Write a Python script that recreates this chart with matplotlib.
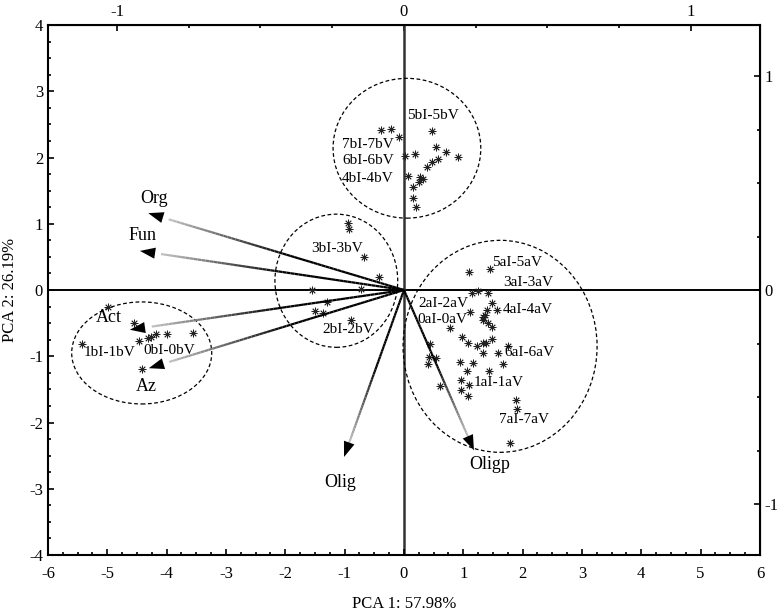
import numpy as np
import matplotlib
matplotlib.use('Agg')
import matplotlib.pyplot as plt
from matplotlib.collections import LineCollection
from matplotlib.patches import Ellipse
from matplotlib.ticker import MultipleLocator, FixedLocator

plt.rcParams['font.family'] = ['Liberation Serif', 'DejaVu Serif']
plt.rcParams['axes.unicode_minus'] = False

# scores, grouped by cluster
b47_x = [-0.39, -0.22, -0.08, 0.47, 0.54, 0.71, 0.91, 0.02, 0.19, 0.57, 0.47, 0.39,
         0.07, 0.27, 0.32, 0.25, 0.15, 0.15, 0.20]
b47_y = [2.42, 2.43, 2.31, 2.40, 2.16, 2.08, 2.01, 2.02, 2.05, 1.98, 1.93, 1.86,
         1.72, 1.71, 1.68, 1.63, 1.55, 1.39, 1.25]
b23_x = [-0.94, -0.93, -0.67, -0.42, -1.55, -0.72, -1.30, -1.50, -1.37, -0.89]
b23_y = [1.01, 0.92, 0.50, 0.20, 0.00, 0.02, -0.18, -0.32, -0.35, -0.45]
b01_x = [-4.99, -4.55, -4.47, -4.31, -4.26, -4.18, -3.99, -3.56, -5.43, -4.42]
b01_y = [-0.26, -0.50, -0.77, -0.72, -0.71, -0.66, -0.66, -0.65, -0.82, -1.19]
a_x = [1.10, 1.45, 1.15, 1.25, 1.42, 1.48, 1.40, 1.57, 1.11, 1.33, 1.37, 1.33, 1.42,
       1.48, 0.78, 0.98, 1.08, 1.23, 1.33, 1.38, 1.48, 1.75, 1.33, 1.58, 0.44, 0.42,
       0.54, 0.40, 0.94, 1.16, 1.67, 1.06, 1.43, 0.96, 1.10, 0.61, 0.96, 1.08, 1.89,
       1.90, 1.79]
a_y = [0.27, 0.32, -0.05, -0.02, -0.05, -0.20, -0.30, -0.30, -0.33, -0.41, -0.38, -0.45,
       -0.50, -0.56, -0.57, -0.71, -0.80, -0.85, -0.80, -0.80, -0.74, -0.85, -0.95, -0.95,
       -0.82, -1.01, -1.03, -1.12, -1.09, -1.10, -1.12, -1.22, -1.22, -1.36, -1.43, -1.45,
       -1.51, -1.60, -1.66, -1.80, -2.31]

# loadings (arrow tips) and their labels
var_names = ['Org', 'Fun', 'Act', 'Az', 'Olig', 'Oligp']
var_x = [-4.31, -4.45, -4.62, -4.30, -1.01, 1.18]
var_y = [1.16, 0.59, -0.60, -1.18, -2.52, -2.42]
var_lx = [-4.21, -4.40, -4.97, -4.35, -1.08, 1.45]
var_ly = [1.38, 0.82, -0.42, -1.45, -2.90, -2.64]

# sample group labels
grp_names = ['5bI-5bV', '7bI-7bV', '6bI-6bV', '4bI-4bV', '3bI-3bV', '2bI-2bV',
             '1bI-1bV', '0bI-0bV', '5aI-5aV', '3aI-3aV', '4aI-4aV', '2aI-2aV',
             '0aI-0aV', '6aI-6aV', '1aI-1aV', '7aI-7aV']
grp_x = [0.49, -0.61, -0.61, -0.61, -1.13, -0.94, -4.96, -3.96, 1.90, 2.09, 2.09,
         0.66, 0.64, 2.12, 1.60, 2.02]
grp_y = [2.64, 2.19, 1.95, 1.68, 0.63, -0.59, -0.94, -0.92, 0.42, 0.11, -0.29,
         -0.21, -0.45, -0.94, -1.40, -1.96]

# cluster outlines: center x, center y, width, height
ell_cx = [0.05, -1.14, -4.42, 1.62]
ell_cy = [2.14, 0.14, -0.95, -0.85]
ell_w = [2.49, 2.07, 2.36, 3.27]
ell_h = [2.11, 2.01, 1.54, 3.20]

fig = plt.figure(figsize=(7.8, 6.13), dpi=100)
ax = fig.add_axes([0.0615, 0.0946, 0.9128, 0.8646])
ax.set_xlim(-6, 6)
ax.set_ylim(-4, 4)

ax.axhline(0, color='black', lw=1.4, zorder=1)
ax.axvline(0, color='#333333', lw=1.8, zorder=1)

for cx, cy, w, h in zip(ell_cx, ell_cy, ell_w, ell_h):
    ax.add_patch(Ellipse((cx, cy), w, h, fill=False, ls=(0, (3, 2)), lw=0.9,
                         color='black', zorder=2))

for xs, ys in [(b47_x, b47_y), (b23_x, b23_y), (b01_x, b01_y), (a_x, a_y)]:
    ax.plot(xs, ys, ls='none', marker=(8, 2, 0), ms=5.5, mew=0.6, color='#222222', zorder=3)

# arrows: shaft fading from black to light grey, black head
for x, y in zip(var_x, var_y):
    n = 60
    t = np.linspace(0, 0.92, n + 1)
    pts = np.column_stack([t * x, t * y])
    segs = np.stack([pts[:-1], pts[1:]], axis=1)
    frac = np.clip((t[:-1] - 0.45) / 0.47, 0, 1)
    g = 0.78 * frac
    cols = [(v, v, v) for v in g]
    ax.add_collection(LineCollection(segs, colors=cols, linewidths=1.6, zorder=4))
    ax.annotate('', xy=(x, y), xytext=(0.88 * x, 0.88 * y),
                arrowprops=dict(arrowstyle='-|>,head_length=1.1,head_width=0.4',
                                color='black', lw=0, shrinkA=0, shrinkB=0), zorder=5)

for name, lx, ly in zip(var_names, var_lx, var_ly):
    ax.text(lx, ly, name, fontsize=13, ha='center', va='center', zorder=6)

for name, gx, gy in zip(grp_names, grp_x, grp_y):
    ax.text(gx, gy, name, fontsize=11, ha='center', va='center', zorder=6)

ax.xaxis.set_major_locator(MultipleLocator(1))
ax.xaxis.set_minor_locator(MultipleLocator(0.25))
ax.yaxis.set_major_locator(MultipleLocator(1))
ax.yaxis.set_minor_locator(MultipleLocator(0.25))
ax.tick_params(which='both', direction='in', labelsize=12, width=1.2)
ax.tick_params(which='major', length=4)
ax.tick_params(which='minor', length=2)
ax.tick_params(axis='x', pad=8)
for s in ax.spines.values():
    s.set_linewidth(1.5)

sx = 4.837
sy = 3.23
top = ax.secondary_xaxis('top', functions=(lambda v: v / sx, lambda v: v * sx))
top.xaxis.set_major_locator(FixedLocator([-1, 0, 1]))
top.xaxis.set_minor_locator(FixedLocator([-1.25, -0.75, -0.5, -0.25, 0.25, 0.5, 0.75, 1.25]))
top.tick_params(which='both', direction='in', labelsize=12, width=1.2)
top.tick_params(which='major', length=4)
top.tick_params(which='minor', length=2)
right = ax.secondary_yaxis('right', functions=(lambda v: v / sy, lambda v: v * sy))
right.yaxis.set_major_locator(FixedLocator([-1, 0, 1]))
right.yaxis.set_minor_locator(FixedLocator([-0.75, -0.5, -0.25, 0.25, 0.5, 0.75]))
right.tick_params(which='both', direction='in', labelsize=12, width=1.2, pad=3)
right.tick_params(which='major', length=4)
right.tick_params(which='minor', length=2)

ax.set_xlabel('PCA 1: 57.98%', fontsize=12, labelpad=10)
ax.set_ylabel('PCA 2: 26.19%', fontsize=12, labelpad=8)

fig.savefig('out.png', dpi=100)
